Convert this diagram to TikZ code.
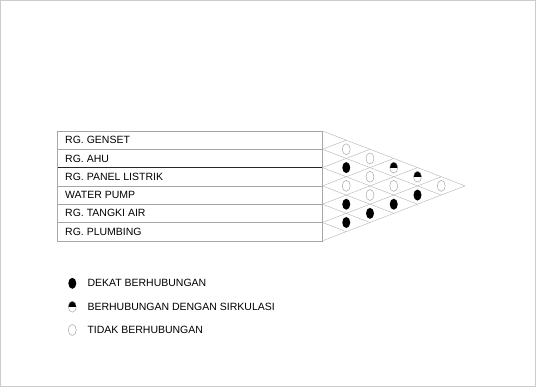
\documentclass[tikz,border=0pt]{standalone}
\usepackage{fontspec}
\setmainfont{Liberation Sans}
\usetikzlibrary{calc,math,shapes.geometric}

\tikzset{
  bulat/.style={ellipse,inner sep=0pt,minimum width=8pt,minimum height=11pt},
  dekat/.style={bulat,fill=black},
  sirkulasi/.style={bulat,draw=gray!80,path picture={\fill[black] (path picture bounding box.west) rectangle (path picture bounding box.north east);}},
  tidak/.style={bulat,draw=gray!80,fill=white},
  garis/.style={gray!60,line width=0.4pt},
  ket/.style={anchor=west,inner sep=0pt,font=\fontsize{10.5}{12}\selectfont}
}

\begin{document}
\begin{tikzpicture}[x=1pt,y=-1pt]
  \useasboundingbox (0,0) rectangle (536,387);
  \draw[gray!40] (0.5,0.5) rectangle (535.5,386.5);

  \tikzmath{
    \xa = 57.3; \xb = 322.5; \ya = 131; \h = 18.3; \d = 23.75;
  }

  \foreach \nama [count=\i from 0] in {RG. GENSET,RG. AHU,RG. PANEL LISTRIK,WATER PUMP,RG. TANGKI AIR,RG. PLUMBING} {
    \node[ket] (baris\i) at (65,{\ya+(\i+0.5)*\h}) {\nama};
  }

  \foreach \k in {0,...,6} {
    \draw[gray!70] (\xa,{\ya+\k*\h}) -- (\xb,{\ya+\k*\h});
    \draw[garis] (\xb,{\ya+\k*\h}) -- ++({(6-\k)*\d},{(6-\k)*\h/2});
    \draw[garis] (\xb,{\ya+\k*\h}) -- ++({\k*\d},{-\k*\h/2});
  }
  \draw[gray!30!black] (\xa,{\ya+2*\h}) -- (\xb,{\ya+2*\h});
  \draw[gray!70] (\xa,\ya) -- (\xa,{\ya+6*\h});
  \draw[gray!70] (\xb,\ya) -- (\xb,{\ya+6*\h});

  \foreach \i/\j/\jenis in {0/1/tidak,0/2/tidak,0/3/sirkulasi,0/4/sirkulasi,0/5/tidak,
      1/2/dekat,1/3/tidak,1/4/tidak,1/5/dekat,
      2/3/tidak,2/4/tidak,2/5/dekat,
      3/4/dekat,3/5/dekat,
      4/5/dekat} {
    \node[\jenis] (sel\i\j) at ({\xb+(\j-\i)*\d},{\ya+(\i+\j+1)*\h/2}) {};
  }

  \node[dekat] (simbol1) at (72.3,283.3) {};
  \node[ket] (ket1) at (87.3,283.3) {DEKAT BERHUBUNGAN};
  \node[sirkulasi] (simbol2) at (72.3,306.7) {};
  \node[ket] (ket2) at (87.3,306.7) {BERHUBUNGAN DENGAN SIRKULASI};
  \node[tidak] (simbol3) at (72.3,330) {};
  \node[ket] (ket3) at (87.3,330) {TIDAK BERHUBUNGAN};
\end{tikzpicture}
\end{document}
